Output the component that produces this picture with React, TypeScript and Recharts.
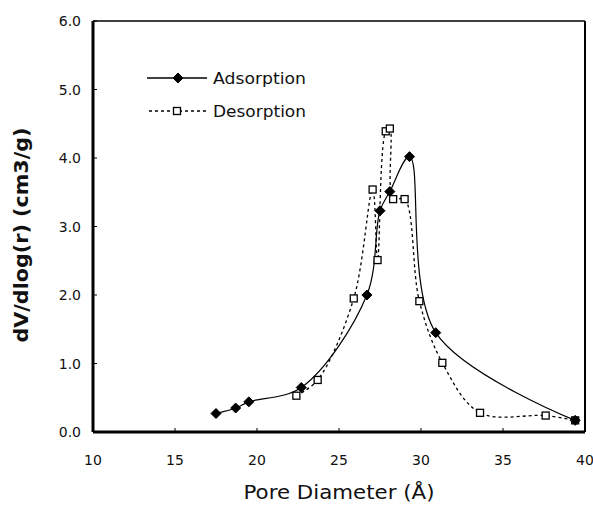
import { Label, Legend, Line, LineChart, ReferenceLine, XAxis, YAxis } from 'recharts';

// pore diameter (Å) and dV/dlog(r) (cm3/g)
const adsorptionX = [17.5, 18.7, 19.5, 22.7, 26.7, 27.5, 28.1, 29.3, 30.9, 39.4];
const adsorptionY = [0.27, 0.35, 0.44, 0.65, 2.0, 3.23, 3.51, 4.02, 1.45, 0.17];

const desorptionX = [22.4, 23.7, 25.9, 27.05, 27.35, 27.85, 28.1, 28.3, 29.0, 29.9, 31.3, 33.6, 37.6, 39.4];
const desorptionY = [0.53, 0.76, 1.95, 3.54, 2.51, 4.39, 4.43, 3.4, 3.4, 1.91, 1.01, 0.28, 0.24, 0.17];

const xTicks = [10, 15, 20, 25, 30, 35, 40];
const yTicks = [0, 1, 2, 3, 4, 5, 6];

const adsorption = adsorptionX.map((x, i) => ({ x, y: adsorptionY[i] }));
const desorption = desorptionX.map((x, i) => ({ x, y: desorptionY[i] }));

const FONT = '"DejaVu Sans", Tahoma, sans-serif';

// smoothed line like the spreadsheet one: centripetal Catmull-Rom
const smoothCurve = (context: any) => {
  let pts: number[][] = [];
  const alpha = 0.5;
  const dist = (a: number[], b: number[]) => Math.hypot(b[0] - a[0], b[1] - a[1]);
  return {
    areaStart() {},
    areaEnd() {},
    lineStart() {
      pts = [];
    },
    lineEnd() {
      const n = pts.length;
      if (!n) return;
      context.moveTo(pts[0][0], pts[0][1]);
      for (let i = 0; i < n - 1; i++) {
        const p1 = pts[i];
        const p2 = pts[i + 1];
        const p0 = i > 0 ? pts[i - 1] : null;
        const p3 = i + 2 < n ? pts[i + 2] : null;
        const l12a = Math.pow(dist(p1, p2), alpha);
        const l12_2a = l12a * l12a;
        let c1 = p1;
        let c2 = p2;
        if (p0) {
          const l01a = Math.pow(dist(p0, p1), alpha);
          const l01_2a = l01a * l01a;
          if (l01a > 1e-9) {
            const a = 2 * l01_2a + 3 * l01a * l12a + l12_2a;
            const m = 3 * l01a * (l01a + l12a);
            c1 = [0, 1].map((k) => (p1[k] * a - p0[k] * l12_2a + p2[k] * l01_2a) / m);
          }
        }
        if (p3) {
          const l23a = Math.pow(dist(p2, p3), alpha);
          const l23_2a = l23a * l23a;
          if (l23a > 1e-9) {
            const b = 2 * l23_2a + 3 * l23a * l12a + l12_2a;
            const m = 3 * l23a * (l23a + l12a);
            c2 = [0, 1].map((k) => (p2[k] * b + p1[k] * l23_2a - p3[k] * l12_2a) / m);
          }
        }
        context.bezierCurveTo(c1[0], c1[1], c2[0], c2[1], p2[0], p2[1]);
      }
    },
    point(x: number, y: number) {
      pts.push([+x, +y]);
    },
  };
};

const XTick = (props: any) => {
  const { x, y, payload } = props;
  return (
    <g>
      <line x1={x} y1={y} x2={x} y2={y - 4} stroke="#000" />
      <text x={x} y={y + 33} textAnchor="middle" fontFamily={FONT} fontSize={14} fill="#111">
        {payload.value}
      </text>
    </g>
  );
};

const YTick = (props: any) => {
  const { x, y, payload } = props;
  return (
    <g>
      <line x1={x} y1={y} x2={x + 4} y2={y} stroke="#000" />
      <text x={x - 12} y={y + 5} textAnchor="end" fontFamily={FONT} fontSize={14} fill="#111">
        {Number(payload.value).toFixed(1)}
      </text>
    </g>
  );
};

const Diamond = (props: any) => {
  const { cx, cy } = props;
  if (cx == null || cy == null) return null;
  const r = 5;
  return (
    <polygon
      points={`${cx},${cy - r} ${cx + r},${cy} ${cx},${cy + r} ${cx - r},${cy}`}
      fill="#000"
      stroke="#000"
    />
  );
};

const Square = (props: any) => {
  const { cx, cy } = props;
  if (cx == null || cy == null) return null;
  const s = 7;
  return <rect x={cx - s / 2} y={cy - s / 2} width={s} height={s} fill="#fff" stroke="#000" strokeWidth={1.3} />;
};

const LegendBox = () => (
  <svg width={200} height={70}>
    <line x1={7} y1={18} x2={67} y2={18} stroke="#000" strokeWidth={1.3} />
    <Diamond cx={38} cy={18} />
    <text x={73} y={24} fontFamily={FONT} fontSize={16} textLength={93} lengthAdjust="spacingAndGlyphs" fill="#111">
      Adsorption
    </text>
    <line x1={9} y1={51} x2={67} y2={51} stroke="#000" strokeWidth={1.3} strokeDasharray="3 3" />
    <Square cx={37} cy={51} />
    <text x={73} y={57} fontFamily={FONT} fontSize={16} textLength={93} lengthAdjust="spacingAndGlyphs" fill="#111">
      Desorption
    </text>
  </svg>
);

export default function App() {
  return (
    <div style={{ position: 'absolute', left: 0, top: 0, background: '#fff' }}>
      <LineChart width={593} height={505} margin={{ top: 21, right: 8, bottom: 0, left: 0 }}>
        <XAxis
          type="number"
          dataKey="x"
          domain={[10, 40]}
          ticks={xTicks}
          allowDataOverflow
          height={73}
          axisLine={{ stroke: '#000', strokeWidth: 3 }}
          tickLine={false}
          tickSize={0}
          tickMargin={0}
          tick={<XTick />}
        >
          <Label
            content={() => (
              <text x={339} y={499} textAnchor="middle" fontFamily={FONT} fontSize={20} textLength={191} lengthAdjust="spacingAndGlyphs" fill="#111">
                Pore Diameter (Å)
              </text>
            )}
          />
        </XAxis>
        <YAxis
          type="number"
          dataKey="y"
          domain={[0, 6]}
          ticks={yTicks}
          allowDataOverflow
          width={93}
          axisLine={{ stroke: '#000', strokeWidth: 3 }}
          tickLine={false}
          tickSize={0}
          tickMargin={0}
          tick={<YTick />}
        >
          <Label
            content={() => (
              <text
                x={0}
                y={0}
                transform="translate(28,235) rotate(-90)"
                textAnchor="middle"
                fontFamily={FONT}
                fontSize={19}
                fontWeight="bold"
                textLength={215}
                lengthAdjust="spacingAndGlyphs"
                fill="#111"
              >
                dV/dlog(r) (cm3/g)
              </text>
            )}
          />
        </YAxis>
        <ReferenceLine y={6} stroke="#000" strokeWidth={1.5} />
        <ReferenceLine x={40} stroke="#000" strokeWidth={2} />
        <Line
          data={desorption}
          dataKey="y"
          type={smoothCurve as any}
          stroke="#000"
          strokeWidth={1.3}
          strokeDasharray="3 3"
          dot={(p: any) => <Square key={`d${p.index}`} {...p} />}
          isAnimationActive={false}
        />
        <Line
          data={adsorption}
          dataKey="y"
          type={smoothCurve as any}
          stroke="#000"
          strokeWidth={1.2}
          dot={(p: any) => <Diamond key={`a${p.index}`} {...p} />}
          isAnimationActive={false}
        />
        <Legend
          layout="horizontal"
          verticalAlign="middle"
          align="center"
          content={() => <LegendBox />}
          wrapperStyle={{ left: 140, top: 60, width: 200, height: 70 }}
        />
      </LineChart>
    </div>
  );
}
